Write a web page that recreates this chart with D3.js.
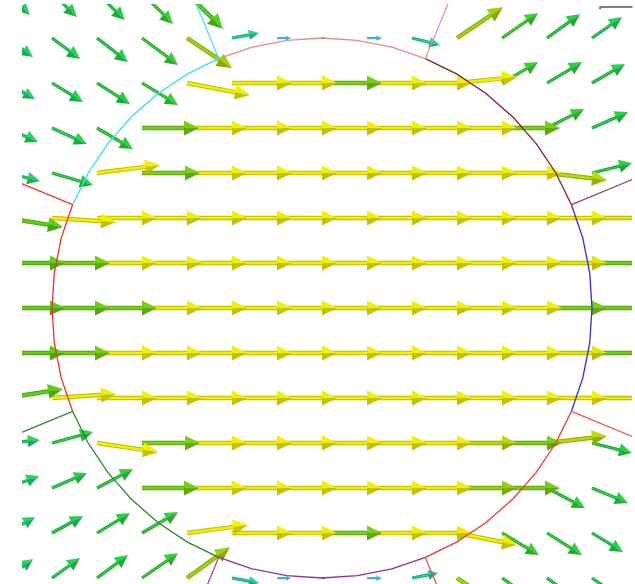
<!DOCTYPE html>
<html><head><meta charset="utf-8">
<script src="https://cdn.jsdelivr.net/npm/d3@7"></script>
<style>html,body{margin:0;padding:0;background:#fff;overflow:hidden}</style>
</head><body>
<svg id="chart" width="635" height="584"></svg>
<script>
// grid columns / rows (grid units, circle centre at 0,0)
const colX = [-7,-6,-5,-4,-3,-2,-1,0,1,2,3,4,5,6];
const rowY = [7,6,5,4,3,2,1,0,-1,-2,-3,-4,-5,-6];
// field components (x right, y up)
const U = [
 [23,25,28,31,36,22,12,8,12,22,36,31,28,25],
 [26,28,31,36,45,27,14,3,15,28,46,36,33,30],
 [28,31,33,36,63,60,60,60,60,60,60,36,35,33],
 [31,35,36,57,60,60,60,60,60,60,60,58,37,36],
 [33,41,63,58,60,60,60,60,60,60,60,60,60,40],
 [56,64,60,60,60,60,60,60,60,60,60,60,60,58],
 [58,58,60,60,60,60,60,60,60,60,60,60,60,58],
 [58,58,60,60,60,60,60,60,60,60,60,60,60,58],
 [58,58,60,60,60,60,60,60,60,60,60,60,60,58],
 [56,64,60,60,60,60,60,60,60,60,60,60,60,58],
 [33,41,61,58,60,60,60,60,60,60,60,60,60,40],
 [32,35,36,57,60,60,60,60,60,60,60,58,38,36],
 [28,31,33,36,61,60,60,60,60,60,60,37,35,31],
 [26,28,31,36,43,27,14,3,15,26,46,36,33,30]
];
const V = [
 [-22,-24,-27,-31,-36,-4,-1,0,1,4,36,31,27,24],
 [-19,-21,-24,-27,-30,5,0,0,0,-7,31,25,24,21],
 [-16,-19,-21,-22,-12,0,0,0,0,0,6,21,21,19],
 [-14,-16,-21,0,0,0,0,0,0,0,0,0,19,16],
 [-8,-12,8,0,0,0,0,0,0,0,0,0,-7,10],
 [-9,-4,0,0,0,0,0,0,0,0,0,0,0,0],
 [0,0,0,0,0,0,0,0,0,0,0,0,0,0],
 [0,0,0,0,0,0,0,0,0,0,0,0,0,0],
 [0,0,0,0,0,0,0,0,0,0,0,0,0,0],
 [9,4,0,0,0,0,0,0,0,0,0,0,0,0],
 [3,11,-9,0,0,0,0,0,0,0,0,0,7,-10],
 [12,15,19,0,0,0,0,0,0,0,0,0,-20,-15],
 [16,17,20,21,8,0,0,0,0,0,-12,-22,-22,-19],
 [19,20,23,25,31,-5,0,0,0,5,-31,-25,-24,-21]
];
// normalised magnitude (colour)
const M = [
 [.55,.6,.62,.65,.7,.45,.28,.1,.28,.45,.7,.65,.62,.6],
 [.55,.6,.62,.66,.82,.45,.28,.05,.28,.45,.82,.66,.62,.6],
 [.55,.6,.62,.65,1,1,1,.76,1,1,1,.66,.64,.6],
 [.55,.6,.64,.76,1,1,1,1,1,1,1,.76,.64,.62],
 [.55,.62,1,.76,1,1,1,1,1,1,1,1,.86,.62],
 [.72,1,1,1,1,1,1,1,1,1,1,1,1,.95],
 [.72,.76,1,1,1,1,1,1,1,1,1,1,.95,.74],
 [.72,.74,.76,1,1,1,1,1,1,1,1,1,.76,.74],
 [.72,.76,1,1,1,1,1,1,1,1,1,1,.95,.74],
 [.72,1,1,1,1,1,1,1,1,1,1,1,1,.95],
 [.55,.62,1,.76,1,1,1,1,1,1,.86,.76,.86,.62],
 [.55,.6,.64,.76,1,1,1,1,1,1,.8,.76,.64,.62],
 [.55,.6,.62,.65,1,1,1,.76,1,1,1,.66,.64,.6],
 [.55,.6,.62,.66,.82,.45,.28,.05,.28,.45,.82,.66,.62,.6]
];
// boundary of the circular region
const circleRadius = 6;
const vertexAngles = [22.5,67.5,112.5,157.5,202.5,247.5,292.5,337.5];
const arcColors = ["#8e1e1e","#e88a8a","#2ee6ff","#ff2a2a","#2a8a2a","#9a2aa8","#ff3535","#2a2aff"];
const radialColors = ["#a84545","#e89090","#3ae8ff","#ff3333","#3a8a3a","#a040b0","#ff4040","#ff5050"];
const radialLength = 3;

const svg = d3.select("#chart");
const x = d3.scaleLinear().domain([-7,7]).range([7,637]);
const y = d3.scaleLinear().domain([7,-7]).range([-7,623]);
const pxPerUnit = x(1) - x(0);
const color = d3.scaleLinear()
  .domain([0,.28,.45,.55,.62,.72,.82,.92,1])
  .range(["#2040ff","#30c8f0","#20cc99","#22cc66","#22cc44","#5ac814","#9ccc08","#d2dc00","#e8e800"]);

svg.append("defs").append("clipPath").attr("id","clip")
  .append("rect").attr("x",22).attr("y",4).attr("width",610).attr("height",580);
const g = svg.append("g").attr("clip-path","url(#clip)");

const arrows = [];
rowY.forEach((gy,j)=>colX.forEach((gx,i)=>{
  arrows.push({gx,gy,u:U[j][i],v:V[j][i],m:M[j][i]});
}));
arrows.forEach(a=>{
  a.x0 = x(a.gx); a.y0 = y(a.gy);
  a.x1 = x(a.gx + a.u/pxPerUnit); a.y1 = y(a.gy + a.v/pxPerUnit);
  const dx=a.x1-a.x0, dy=a.y1-a.y0, L=Math.hypot(dx,dy)||1;
  a.L=L; a.ux=dx/L; a.uy=dy/L;
  a.hl = Math.min(L>=50?15:13, L*0.37);
  a.hw = a.hl*0.5;
  a.w = L>=50?4.4:(L>=20?3.2:2);
  a.c = d3.color(color(a.m));
});

const shafts = g.append("g");
arrows.forEach(a=>{
  const ex=a.x1-a.ux*a.hl*0.6, ey=a.y1-a.uy*a.hl*0.6;
  shafts.append("line").attr("x1",a.x0).attr("y1",a.y0).attr("x2",ex).attr("y2",ey)
    .attr("stroke",a.c.darker(0.6)).attr("stroke-width",a.w).attr("stroke-linecap","butt");
  shafts.append("line").attr("x1",a.x0).attr("y1",a.y0).attr("x2",ex).attr("y2",ey)
    .attr("stroke",a.c.brighter(0.1)).attr("stroke-width",Math.max(1,a.w-1.8));
});
const heads = g.append("g");
arrows.forEach(a=>{
  const bx=a.x1-a.ux*a.hl, by=a.y1-a.uy*a.hl;
  const nx=-a.uy, ny=a.ux;
  const p1=[bx+nx*a.hw, by+ny*a.hw], p2=[bx-nx*a.hw, by-ny*a.hw], tip=[a.x1,a.y1];
  const lowFirst = (ny>0);
  const low = lowFirst?p1:p2, high = lowFirst?p2:p1;
  heads.append("path").attr("d",`M${tip}L${high}L${bx},${by}Z`).attr("fill",a.c.brighter(0.1));
  heads.append("path").attr("d",`M${tip}L${low}L${bx},${by}Z`).attr("fill",a.c.darker(0.5));
});

// circle boundary polyline segments
const line = d3.line().x(d=>x(d[0])).y(d=>y(d[1]));
vertexAngles.forEach((a0,k)=>{
  const pts = d3.range(0,7).map(s=>{
    const t=(a0+s*45/6)*Math.PI/180;
    return [circleRadius*Math.cos(t), circleRadius*Math.sin(t)];
  });
  g.append("path").attr("d",line(pts)).attr("fill","none")
    .attr("stroke",arcColors[k]).attr("stroke-width",1.3);
  const t=a0*Math.PI/180;
  g.append("path").attr("d",line([[circleRadius*Math.cos(t),circleRadius*Math.sin(t)],
      [(circleRadius+radialLength)*Math.cos(t),(circleRadius+radialLength)*Math.sin(t)]]))
    .attr("fill","none").attr("stroke",radialColors[k]).attr("stroke-width",1.2);
});

// small frame mark at top right
const frameMark = [[6.18,6.64],[6.18,6.69],[6.9,6.69]];
svg.append("path").attr("d",line(frameMark)).attr("fill","none")
  .attr("stroke","#555").attr("stroke-width",1.5);
</script>
</body></html>
